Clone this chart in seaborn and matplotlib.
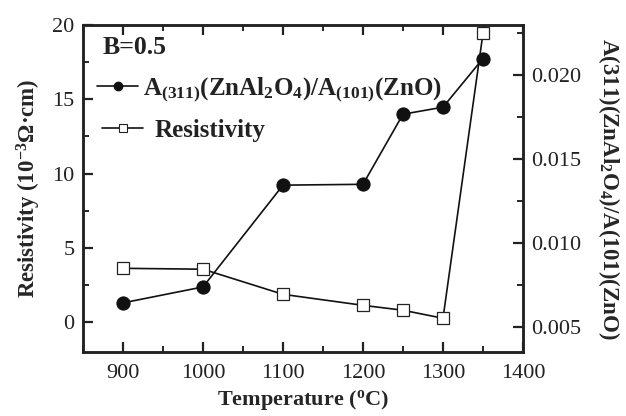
import matplotlib
matplotlib.use("Agg")
import matplotlib.pyplot as plt
import seaborn as sns
import pandas as pd
from matplotlib.ticker import MultipleLocator, FormatStrFormatter
from matplotlib.lines import Line2D

temperature = [900, 1000, 1100, 1200, 1250, 1300, 1350]
resistivity = [3.63, 3.57, 1.88, 1.14, 0.81, 0.27, 19.45]
ratio = [0.00643, 0.00738, 0.01345, 0.0135, 0.01768, 0.0181, 0.0210]

sns.set_theme(style="ticks")
plt.rcParams['font.family'] = ['Liberation Serif', 'DejaVu Serif']
plt.rcParams['mathtext.fontset'] = 'custom'
plt.rcParams['mathtext.rm'] = 'Liberation Serif:bold'
plt.rcParams['mathtext.bf'] = 'Liberation Serif:bold'
plt.rcParams['mathtext.it'] = 'Liberation Serif:bold'
plt.rcParams['mathtext.default'] = 'bf'

df = pd.DataFrame({"T": temperature, "R": resistivity, "A": ratio})

fig = plt.figure(figsize=(6.26, 4.16), dpi=100)
L, R, B, T = 83, 523, 352, 25
ax = fig.add_axes([L / 626, 1 - B / 416, (R - L) / 626, (B - T) / 416])
ax2 = ax.twinx()

sns.lineplot(data=df, x="T", y="R", ax=ax, color="#111111", linewidth=1.2,
             marker="s", markersize=8.5, markerfacecolor="white",
             markeredgecolor="#222222", markeredgewidth=0.9, zorder=3)
sns.lineplot(data=df, x="T", y="A", ax=ax2, color="#111111", linewidth=1.2,
             marker="o", markersize=9.5, markerfacecolor="#111111",
             markeredgecolor="#111111", zorder=3)

ax.set_xlim(850, 1400)
ax.set_ylim(-2, 20)
ax2.set_ylim(0.0035, 0.023)

ax.xaxis.set_major_locator(MultipleLocator(100))
ax.xaxis.set_minor_locator(MultipleLocator(50))
ax.yaxis.set_major_locator(MultipleLocator(5))
ax.yaxis.set_minor_locator(MultipleLocator(2.5))
ax2.yaxis.set_major_locator(MultipleLocator(0.005))
ax2.yaxis.set_minor_locator(MultipleLocator(0.0025))
ax2.yaxis.set_major_formatter(FormatStrFormatter("%.3f"))

for a in (ax, ax2):
    for s in a.spines.values():
        s.set_linewidth(1.8)
        s.set_color("#222222")

ax.tick_params(axis="both", which="major", direction="in", length=7, width=1.6,
               labelsize=16, colors="#222222", pad=6)
ax.tick_params(axis="both", which="minor", direction="in", length=4, width=1.4)
ax.tick_params(axis="x", which="both", top=True)
ax.tick_params(axis="x", which="major", pad=9)
ax.tick_params(axis="y", which="both", right=False)
ax2.tick_params(axis="y", which="major", direction="in", length=7, width=1.6,
                labelsize=16, colors="#222222", pad=6)
ax2.tick_params(axis="y", which="minor", direction="in", length=4, width=1.4)

ax.set_xlabel("Temperature ($\\mathregular{^o}$C)", fontsize=16, fontweight="bold",
              labelpad=3)
ax.set_ylabel("Resistivity (10$^{-3}$$\\Omega$·cm)", fontsize=16.5, fontweight="bold",
              labelpad=7)
ax2.set_ylabel("A(311)(ZnAl$_2$O$_4$)/A(101)(ZnO)", fontsize=16.5, fontweight="bold",
               rotation=270, labelpad=29)

for lab in ax.get_xticklabels() + ax.get_yticklabels() + ax2.get_yticklabels():
    lab.set_fontweight("normal")

ax.text(20 / 440, (B - 48) / (B - T), "B=0.5", transform=ax.transAxes, fontsize=18.5,
        fontweight="bold", va="center", ha="left", color="#222222")

h1 = Line2D([], [], color="#111111", linewidth=1.2, marker="o", markersize=6,
            markerfacecolor="#111111", markeredgecolor="#111111")
h2 = Line2D([], [], color="#111111", linewidth=1.2, marker="s", markersize=6,
            markerfacecolor="white", markeredgecolor="#222222", markeredgewidth=0.8)
leg1 = ax.legend([h1], ["A$_{(311)}$(ZnAl$_2$O$_4$)/A$_{(101)}$(ZnO)"],
                 loc="center left", bbox_to_anchor=((97 - L) / 440, (B - 90) / (B - T)),
                 frameon=False, fontsize=18, handlelength=1.64, handletextpad=0.2,
                 borderaxespad=0, borderpad=0)
for t in leg1.get_texts():
    t.set_fontweight("bold")
    t.set_color("#222222")
ax.add_artist(leg1)
leg2 = ax.legend([h2], ["Resistivity"],
                 loc="center left", bbox_to_anchor=((102 - L) / 440, (B - 130) / (B - T)),
                 frameon=False, fontsize=18, handlelength=1.64, handletextpad=0.48,
                 borderaxespad=0, borderpad=0)
for t in leg2.get_texts():
    t.set_fontweight("bold")
    t.set_color("#222222")

ax.set_zorder(ax2.get_zorder() + 1)
ax.patch.set_visible(False)

fig.savefig("out.png", dpi=100)
